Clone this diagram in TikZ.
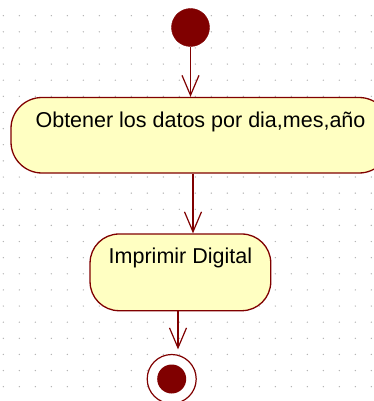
\documentclass[tikz,border=0pt]{standalone}
\usepackage{fontspec}
\setmainfont{Liberation Sans}
\usetikzlibrary{arrows.meta}
\definecolor{umlred}{RGB}{128,0,0}
\definecolor{umlfill}{RGB}{255,255,194}
\definecolor{griddot}{RGB}{175,175,175}
\begin{document}
\begin{tikzpicture}[x=1pt,y=-1pt,
  actbox/.style={draw=umlred, fill=umlfill, line width=1.3pt, inner sep=0pt,
    font=\fontsize{21.5}{24}\selectfont, text=black},
  flow/.style={draw=umlred, line width=1.2pt, -{Straight Barb[length=20pt,width=17pt,line width=1.2pt]}},
  startdot/.style={circle, fill=umlred, draw=umlred, inner sep=0pt, minimum size=38pt},
  enddot/.style={circle, draw=umlred, line width=1.2pt, fill=white, inner sep=0pt, minimum size=49pt},
  endinner/.style={circle, fill=umlred, inner sep=0pt, minimum size=29pt}]
\useasboundingbox (0,0) rectangle (374,401);
\clip (0,0) rectangle (374,401);
\fill[white] (0,0) rectangle (374,401);
% grid dots
\foreach \i in {0,...,23} {
  \foreach \j in {0,...,23} {
    \fill[griddot] (3.3+16*\i, 15.7+16.13*\j) circle (0.7pt);
  }
}
% nodes
\node[startdot] (start) at (190.5,27.5) {};
\node[actbox, rounded corners=31pt, minimum width=379pt,
      text height=30pt, text depth=45.5pt] (b1) at (200.5,135.25) {Obtener los datos por dia,mes,año};
\node[actbox, rounded corners=29pt, minimum width=180.7pt,
      text height=29pt, text depth=47.7pt] (b2) at (180.4,272.35) {Imprimir Digital};
\node[enddot] (end) at (171.7,379) {};
\node[endinner] (endc) at (end.center) {};
% arrow x positions
\coordinate (a2x) at (193,0);
\coordinate (a3x) at (178,0);
% connectors
\draw[flow] (start.south) -- (b1.north -| start.south);
\draw[flow] (b1.south -| a2x) -- (b2.north -| a2x);
\draw[flow, shorten >=4.5pt] (b2.south -| a3x) -- (end.north -| a3x);
\end{tikzpicture}
\end{document}
